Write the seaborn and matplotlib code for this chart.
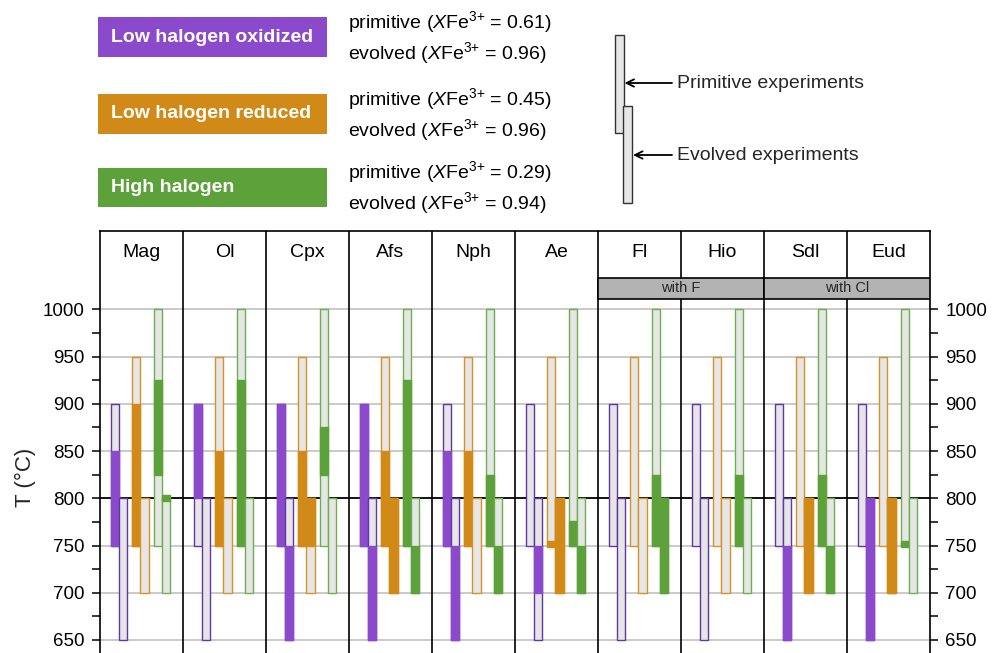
import matplotlib
matplotlib.use("Agg")
import matplotlib.pyplot as plt
from matplotlib.patches import Rectangle
from matplotlib.ticker import FixedLocator
import seaborn as sns

# ---- data -------------------------------------------------------------
minerals = ["Mag", "Ol", "Cpx", "Afs", "Nph", "Ae", "Fl", "Hio", "Sdl", "Eud"]
series = ["Low halogen oxidized", "Low halogen reduced", "High halogen"]
stages = ["primitive", "evolved"]
xfe3 = [[0.61, 0.96], [0.45, 0.96], [0.29, 0.94]]

# temperature span of each run set: [series][stage]
run_top = [[900, 800], [950, 800], [1000, 800]]
run_bottom = [[750, 650], [750, 700], [750, 700]]

# stability interval (top, bottom) of each mineral: [series][stage], None = absent
stab_mag = [[(850, 750), None], [(900, 750), None], [(925, 825), (803, 797)]]
stab_ol = [[(900, 800), None], [(850, 750), None], [(925, 750), None]]
stab_cpx = [[(900, 750), (750, 650)], [(850, 750), (800, 750)], [(875, 825), None]]
stab_afs = [[(900, 750), (750, 650)], [(850, 750), (800, 700)], [(925, 750), (750, 700)]]
stab_nph = [[(850, 750), (750, 650)], [(850, 750), None], [(825, 750), (750, 700)]]
stab_ae = [[None, (750, 700)], [(755, 748), (800, 700)], [(776, 750), (750, 700)]]
stab_fl = [[None, None], [None, None], [(825, 750), (800, 700)]]
stab_hio = [[None, None], [None, None], [(825, 750), None]]
stab_sdl = [[None, (750, 650)], [None, (800, 700)], [(825, 750), (750, 700)]]
stab_eud = [[None, (800, 650)], [None, (800, 700)], [(755, 748), None]]
stability = [stab_mag, stab_ol, stab_cpx, stab_afs, stab_nph,
             stab_ae, stab_fl, stab_hio, stab_sdl, stab_eud]

halogen_groups = [("with F", 6, 8), ("with Cl", 8, 10)]

y_major = [650, 700, 750, 800, 850, 900, 950, 1000]
y_minor = [675, 725, 775, 825, 875, 925, 975]

# ---- style ------------------------------------------------------------
fill_colors = ["#8A4ACB", "#D18A17", "#5DA13A"]
edge_colors = ["#6236A6", "#DA9124", "#6AB04C"]
light = "#E6E6E6"

sns.set_theme(style="ticks")
plt.rcParams["font.family"] = ["Liberation Sans", "DejaVu Sans"]
plt.rcParams["mathtext.fontset"] = "custom"
plt.rcParams["mathtext.rm"] = "Liberation Sans"
plt.rcParams["mathtext.it"] = "Liberation Sans:italic"

W, H = 997, 653
fig = plt.figure(figsize=(W / 100, H / 100), dpi=100)
fig.patch.set_facecolor("white")

ax_left, ax_right, ax_top = 100, 930, 231
ax = fig.add_axes([ax_left / W, 0, (ax_right - ax_left) / W, (H - ax_top) / H])
ax.set_xlim(0, len(minerals))
ax.set_ylim(636.2, 1083)

# gridlines
for t in y_major:
    if t == 800:
        ax.axhline(t, color="black", lw=1.3, zorder=1)
    else:
        ax.axhline(t, color="#C6C6C6", lw=1.3, zorder=0.5)

# bars
group_centers = [0.229, 0.486, 0.748]
stage_shift = [-0.05, 0.05]
bar_w = 0.1
for i, name in enumerate(minerals):
    for s in range(len(series)):
        for k in range(len(stages)):
            x = i + group_centers[s] + stage_shift[k]
            top, bot = run_top[s][k], run_bottom[s][k]
            ax.bar(x, top - bot, bottom=bot, width=bar_w, color=light,
                   edgecolor=edge_colors[s], linewidth=1.0, zorder=2 + k)
            seg = stability[i][s][k]
            if seg is not None:
                ax.bar(x, seg[0] - seg[1], bottom=seg[1], width=bar_w,
                       color=fill_colors[s], edgecolor=fill_colors[s],
                       linewidth=1.0, zorder=2.5 + k)

# column dividers and header names
for i in range(1, len(minerals)):
    ax.axvline(i, color="black", lw=1.2, zorder=1.5)
for i, name in enumerate(minerals):
    ax.text(i + 0.5, 1060, name, ha="center", va="center", fontsize=14,
            color="black")

for label, a, b in halogen_groups:
    ax.add_patch(Rectangle((a, 1011.1), b - a, 22.2, facecolor="#B3B3B3",
                           edgecolor="black", lw=1.2, zorder=5))
    ax.text((a + b) / 2, 1022.2, label, ha="center", va="center",
            fontsize=10.5, zorder=6)

# axes frame and ticks
for side in ["left", "right", "top"]:
    ax.spines[side].set_visible(True)
    ax.spines[side].set_linewidth(1.2)
    ax.spines[side].set_color("black")
ax.spines["bottom"].set_visible(False)
ax.set_xticks([])
ax.yaxis.set_major_locator(FixedLocator(y_major))
ax.yaxis.set_minor_locator(FixedLocator(y_minor))
ax.tick_params(axis="y", which="both", direction="out", length=6, width=1.1,
               left=True, right=True, labelleft=True, labelright=True,
               labelsize=13.5, pad=5, colors="black")

# ---- legend, axis title and schematic in pixel coordinates -----------
ov = fig.add_axes([0, 0, 1, 1], zorder=10)
ov.set_xlim(0, W)
ov.set_ylim(H, 0)
ov.axis("off")

ov.text(25, 477, "T (°C)", rotation=90, fontsize=16, ha="center",
        va="center")

box_y = [(17, 57), (94, 134), (168, 207)]
text_y = [(22, 53), (99, 130), (172, 203)]
for s, name in enumerate(series):
    y0, y1 = box_y[s]
    ov.add_patch(Rectangle((98, y0), 229, y1 - y0, facecolor=fill_colors[s],
                           edgecolor="none"))
    ov.text(111, (y0 + y1) / 2, name, color="white", fontsize=14,
            fontweight="bold", ha="left", va="center")
    for k, stage in enumerate(stages):
        ov.text(348, text_y[s][k],
                stage + r" ($\mathit{X}$Fe$^{3{+}}$ = " + f"{xfe3[s][k]:.2f})",
                fontsize=14, ha="left", va="center", color="black")

ov.add_patch(Rectangle((614.5, 35), 9, 98, facecolor=light,
                       edgecolor="#333333", lw=1.0))
ov.add_patch(Rectangle((622.7, 105.5), 9, 97, facecolor=light,
                       edgecolor="#333333", lw=1.0))
for ytxt, xend, label in [(83, 624.5, "Primitive experiments"),
                          (155, 633, "Evolved experiments")]:
    ov.annotate("", xy=(xend, ytxt), xytext=(672, ytxt),
                arrowprops=dict(arrowstyle="->,head_length=0.45,head_width=0.22",
                                color="black", lw=1.3, shrinkA=0, shrinkB=0))
    ov.text(677, ytxt, label, fontsize=14, ha="left", va="center")

fig.savefig("out.png", dpi=100)
